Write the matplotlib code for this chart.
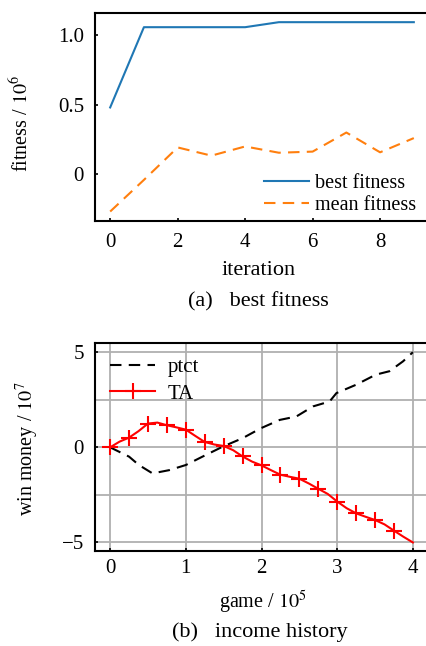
import numpy as np
import matplotlib as mpl
import matplotlib.pyplot as plt
from matplotlib.ticker import FixedLocator


# Times-like serif everywhere
mpl.rcParams['font.family'] = ['Liberation Serif', 'DejaVu Serif']
mpl.rcParams['mathtext.fontset'] = 'stix'
mpl.rcParams['font.size'] = 14

# (a) best fitness
iteration = [0, 1, 2, 3, 4, 5, 6, 7, 8, 9]
best_fitness = [0.48, 1.056, 1.056, 1.056, 1.056, 1.092, 1.092, 1.092, 1.092, 1.092]
mean_fitness = [-0.267, -0.04, 0.193, 0.134, 0.20, 0.155, 0.163, 0.30, 0.158, 0.26]

# (b) income history
ptct_game = [0, 0.25, 0.38, 0.56, 0.78, 1.0, 1.22, 1.49, 1.75, 1.99, 2.24,
             2.46, 2.68, 2.9, 2.99, 3.25, 3.51, 3.69, 3.87, 4.0]
ptct_money = [0, -0.49, -0.93, -1.37, -1.2, -0.93, -0.49, 0.04, 0.48, 1.0,
              1.44, 1.62, 2.15, 2.41, 2.85, 3.29, 3.82, 4.0, 4.52, 5.0]
ta_game = [0, 0.125, 0.25, 0.375, 0.5, 0.625, 0.75, 0.875, 1.0, 1.125, 1.25,
           1.375, 1.5, 1.625, 1.75, 1.875, 2.0, 2.125, 2.25, 2.375, 2.5,
           2.625, 2.75, 2.875, 3.0, 3.125, 3.25, 3.375, 3.5, 3.625, 3.75,
           3.875, 4.0]
ta_money = [0, 0.3, 0.51, 0.85, 1.25, 1.3, 1.16, 1.05, 0.93, 0.6, 0.28,
            0.15, 0.07, -0.15, -0.48, -0.75, -0.95, -1.2, -1.44, -1.55,
            -1.65, -1.9, -2.18, -2.45, -2.85, -3.2, -3.47, -3.65, -3.82,
            -4.05, -4.38, -4.7, -5.0]

fig = plt.figure(figsize=(4.26, 6.46), dpi=100)
W, H = 426.0, 646.0

# Axes positions in pixels (left, top, right, bottom) -> figure fraction
ax1 = fig.add_axes([95 / W, 1 - 221 / H, (429 - 95) / W, (221 - 12.7) / H])
ax2 = fig.add_axes([95 / W, 1 - 551 / H, (428 - 95) / W, (551 - 342.7) / H])

for ax in (ax1, ax2):
    for spine in ax.spines.values():
        spine.set_linewidth(1.5)
    ax.tick_params(axis='both', which='major', direction='in', length=2.5,
                   width=1.2, labelsize=15)
    ax.tick_params(axis='y', which='major', pad=8)
    ax.tick_params(axis='both', which='minor', length=0)

# Top panel
ax1.plot(iteration, best_fitness, color='#1f77b4', lw=1.5, label='best fitness')
ax1.plot(iteration, mean_fitness, color='#ff7f0e', lw=1.5, ls=(0, (5.5, 3.5)),
         label='mean fitness')
ax1.set_xlim(-0.45, 9.45)
ax1.set_ylim(-0.335, 1.16)
ax1.set_xticks([0, 2, 4, 6, 8])
ax1.set_yticks([0, 0.5, 1.0])
ax1.set_yticklabels(['0', '0.5', '1.0'])
ax1.tick_params(axis='x', which='major', pad=9)
ax1.set_xlabel('iteration', fontsize=16, va='center')
ax1.xaxis.set_label_coords(0.49, -0.24)
ax1.set_ylabel('fitness / $10^6$', fontsize=14.5, va='center')
ax1.yaxis.set_label_coords(-0.222, 0.47)
ax1.legend(loc='lower right', frameon=False, fontsize=14.5, handlelength=2.2,
           handletextpad=0.3, labelspacing=0.15, borderaxespad=0.0,
           bbox_to_anchor=(0.985, -0.01))
fig.text(258 / W, 1 - 302 / H, '(a)   best fitness', ha='center', va='center',
         fontsize=16)

# Bottom panel
ax2.grid(True, which='both', color='#b0b0b0', lw=1.3)
ax2.set_axisbelow(True)
ax2.plot(ptct_game, ptct_money, color='black', lw=1.5, ls=(0, (5.5, 3.5)),
         label='ptct')
ax2.plot(ta_game, ta_money, color='red', lw=1.5, marker='+', markersize=11,
         markeredgewidth=1.5, markevery=list(range(0, 32, 2)), label='TA')
ax2.set_xlim(-0.2, 4.2)
ax2.set_ylim(-5.45, 5.5)
ax2.set_xticks([0, 1, 2, 3, 4])
ax2.set_yticks([-5, 0, 5])
ax2.set_yticklabels(['\u22125', '0', '5'])
ax2.yaxis.set_minor_locator(FixedLocator([-2.5, 2.5]))
ax2.tick_params(axis='x', which='major', pad=6)
ax2.set_xlabel('game / $10^5$', fontsize=14.5, va='center')
ax2.xaxis.set_label_coords(0.505, -0.245)
ax2.set_ylabel('win money / $10^7$', fontsize=14.5, va='center')
ax2.yaxis.set_label_coords(-0.204, 0.49)
ax2.legend(loc='upper left', frameon=False, fontsize=15, handlelength=2.2,
           handletextpad=0.6, labelspacing=0.35, borderaxespad=0.3)
fig.text(260 / W, 1 - 632 / H, '(b)   income history', ha='center',
         va='center', fontsize=16)

fig.savefig('out.png', dpi=100)
